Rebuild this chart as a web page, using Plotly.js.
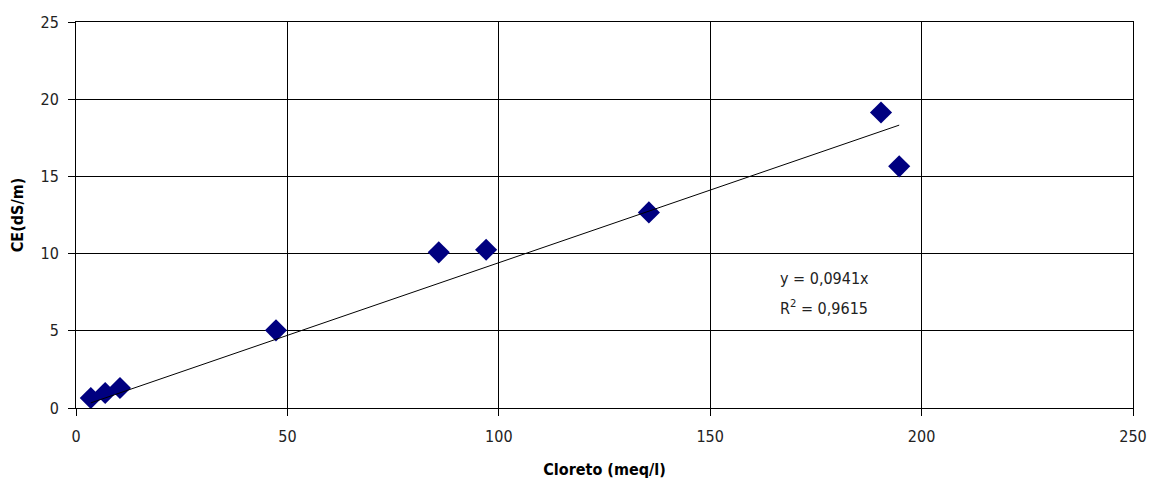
<!DOCTYPE html>
<html>
<head>
<meta charset="utf-8">
<script src="https://cdn.plot.ly/plotly-3.0.1.min.js"></script>
<style>
html,body{margin:0;padding:0;background:#fff;}
#chart{width:1149px;height:479px;}
</style>
</head>
<body>
<div id="chart"></div>
<script>
// Data
const cloreto = [3.5, 6.9, 10.4, 47.3, 85.8, 97.0, 135.5, 190.4, 194.7];
const ce = [0.65, 0.97, 1.30, 5.03, 10.08, 10.25, 12.67, 19.14, 15.65];
// Linear trendline (through origin) endpoints as drawn
const trendX = [3.5, 194.7];
const trendY = [0.33, 18.32];
const xTicks = [0, 50, 100, 150, 200, 250];
const yTicks = [0, 5, 10, 15, 20, 25];
const eqLine1 = "y = 0,0941x";
const eqLine2 = "R<sup>2</sup> = 0,9615";

const FONT = "'Liberation Sans Narrow', 'Arial Narrow', 'DejaVu Sans Condensed', sans-serif";

const traces = [
  {
    x: cloreto, y: ce, type: 'scatter', mode: 'markers',
    marker: {symbol: 'diamond', size: 17, color: '#000080', line: {width: 0}},
    hoverinfo: 'x+y', showlegend: false
  },
  {
    x: trendX, y: trendY, type: 'scatter', mode: 'lines',
    line: {color: '#000000', width: 1}, hoverinfo: 'skip', showlegend: false
  }
];

const layout = {
  width: 1149, height: 479,
  margin: {l: 76, r: 16, t: 22, b: 71},
  paper_bgcolor: '#ffffff', plot_bgcolor: '#ffffff',
  font: {family: FONT, size: 16, color: '#222'},
  showlegend: false,
  xaxis: {
    range: [0, 250], tickvals: xTicks, ticktext: xTicks.map(String),
    ticks: 'outside', ticklen: 7, tickcolor: '#000', tickwidth: 1,
    ticklabelstandoff: 7,
    showgrid: true, gridcolor: '#000', gridwidth: 1,
    showline: true, linecolor: '#000', linewidth: 1, mirror: true,
    zeroline: false, fixedrange: true,
    tickfont: {family: FONT, size: 16, color: '#222'},
    title: {text: 'Cloreto (meq/l)', font: {family: FONT, size: 16, color: '#000', weight: 'bold'}, standoff: 18}
  },
  yaxis: {
    range: [0, 25], tickvals: yTicks, ticktext: yTicks.map(String),
    ticks: 'outside', ticklen: 7, tickcolor: '#000', tickwidth: 1,
    ticklabelstandoff: 6,
    showgrid: true, gridcolor: '#000', gridwidth: 1,
    showline: true, linecolor: '#000', linewidth: 1, mirror: true,
    zeroline: false, fixedrange: true,
    tickfont: {family: FONT, size: 16, color: '#222'},
    title: {text: 'CE(dS/m)', font: {family: FONT, size: 16, color: '#000', weight: 'bold'}, standoff: 12}
  },
  annotations: [
    {x: 166, y: 8.4, xref: 'x', yref: 'y', text: eqLine1, showarrow: false,
     xanchor: 'left', yanchor: 'middle', font: {family: FONT, size: 16, color: '#222'}},
    {x: 166, y: 6.5, xref: 'x', yref: 'y', text: eqLine2, showarrow: false,
     xanchor: 'left', yanchor: 'middle', font: {family: FONT, size: 16, color: '#222'}}
  ]
};

Plotly.newPlot('chart', traces, layout, {displayModeBar: false, staticPlot: true});
</script>
</body>
</html>
